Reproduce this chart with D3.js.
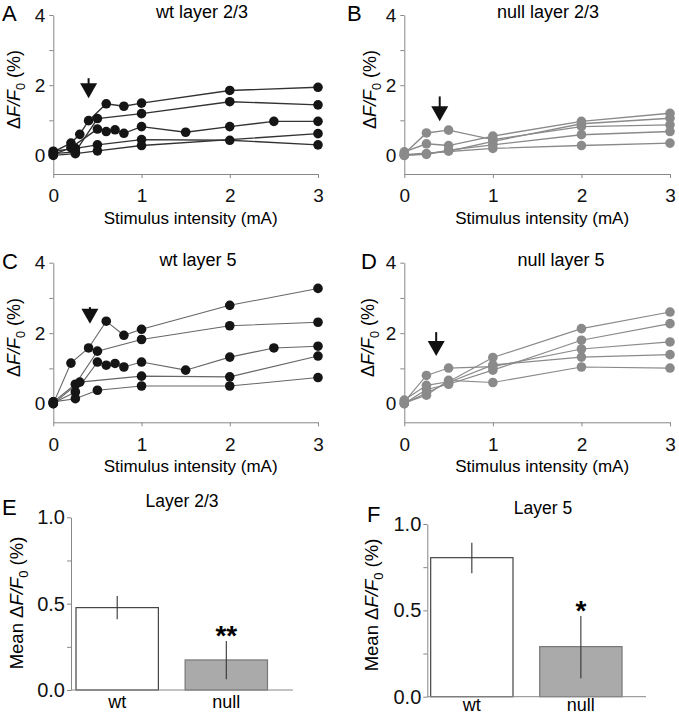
<!DOCTYPE html>
<html>
<head>
<meta charset="utf-8">
<script src="https://cdn.jsdelivr.net/npm/d3@7"></script>
<style>
  body { margin: 0; background: #fff; }
  svg { display: block; font-family: "Liberation Sans", Arial, sans-serif; }
  .axis path, .axis line { stroke: #888; }
  .axis text { fill: #111; }
</style>
</head>
<body>
<script>
// x ticks for the line panels, y ticks
var xTicks = [0, 1, 2, 3];
var yTicks = [0, 1, 2, 3, 4];
var barTicks = [0, 0.25, 0.5, 0.75, 1];

// traces: [stimulus mA, dF/F0 %]
var wt23 = [
  [[0,0.1],[0.2,0.35],[0.3,0.6],[0.4,0.99],[0.6,1.47],[0.8,1.4],[1,1.49],[2,1.85],[3,1.94]],
  [[0,0.05],[0.25,0.1],[0.5,1.05],[1,1.19],[2,1.53],[3,1.44]],
  [[0,0.02],[0.2,0.22],[0.5,0.75],[0.6,0.68],[0.7,0.73],[0.8,0.63],[1,0.82],[1.5,0.66],[2,0.82],[2.5,0.97],[3,0.97]],
  [[0,0.12],[0.25,0.2],[0.5,0.3],[1,0.45],[2,0.43],[3,0.3]],
  [[0,0.0],[0.25,0.05],[0.5,0.13],[1,0.28],[3,0.62]]
];
var null23 = [
  [[0,0.05],[0.25,0.64],[0.5,0.72],[1,0.45],[2,0.82],[3,0.87]],
  [[0,0.1],[0.25,0.33],[0.5,0.28],[1,0.55],[2,0.97],[3,1.2]],
  [[0,0.0],[0.25,0.05],[0.5,0.12],[1,0.4],[2,0.9],[3,1.06]],
  [[0,0.0],[0.25,0.03],[0.5,0.15],[1,0.3],[2,0.59],[3,0.68]],
  [[0,0.02],[1,0.2],[2,0.28],[3,0.35]]
];
var wt5 = [
  [[0,0.0],[0.2,1.15],[0.4,1.58],[0.6,2.34],[0.8,1.94],[1,2.11],[2,2.79],[3,3.27]],
  [[0,0.05],[0.25,0.55],[0.5,1.49],[1,1.82],[2,2.21],[3,2.31]],
  [[0,0.02],[0.25,0.33],[0.5,1.18],[0.6,1.09],[0.7,1.14],[0.8,1.04],[1,1.18],[1.5,0.95],[2,1.32],[2.5,1.58],[3,1.63]],
  [[0,0.0],[0.3,0.61],[1,0.78],[2,0.76],[3,1.35]],
  [[0,0.05],[0.25,0.14],[0.5,0.38],[1,0.5],[2,0.5],[3,0.74]]
];
var null5 = [
  [[0,0.05],[0.25,0.8],[0.5,1.01],[1,1.05],[2,1.55],[3,1.75]],
  [[0,0.1],[0.25,0.52],[0.5,0.62],[1,1.31],[2,2.13],[3,2.6]],
  [[0,0.0],[0.25,0.4],[0.5,0.55],[1,0.95],[2,1.8],[3,2.27]],
  [[0,0.0],[0.25,0.3],[0.5,0.6],[1,1.1],[2,1.32],[3,1.39]],
  [[0,0.02],[0.25,0.24],[0.5,0.66],[1,0.6],[2,1.04],[3,1.01]]
];

// arrows: x position, shaft top, tip (data units)
var arrowX = [0.4, 0.4, 0.415, 0.36];
var arrowTop = [2.2, 1.68, 2.74, 2.03];
var arrowTip = [1.63, 0.97, 2.27, 1.35];

// bar panels
var groups = ["wt", "null"];
var mean23 = [0.477, 0.174];
var errLo23 = [0.41, 0.062];
var errHi23 = [0.544, 0.284];
var stars23 = ["", "**"];
var mean5 = [0.805, 0.29];
var errLo5 = [0.715, 0.107];
var errHi5 = [0.892, 0.467];
var stars5 = ["", "*"];

var W = 679, H = 720;
var svg = d3.select("body").append("svg").attr("width", W).attr("height", H);

// y label with italic F and subscript 0
function yLabel(g, x, y, prefix, size) {
    var t = g.append("text")
        .attr("transform", "translate(" + x + "," + y + ") rotate(-90)")
        .attr("text-anchor", "middle")
        .style("font-size", size + "px");
    if (prefix) t.append("tspan").text(prefix);
    t.append("tspan").text("\u0394");
    t.append("tspan").style("font-style", "italic").text("F/F");
    t.append("tspan").attr("dy", 5).style("font-size", (size * 0.7) + "px").text("0");
    t.append("tspan").attr("dy", -5).text(" (%)");
}

function linePanel(opt) {
    var g = svg.append("g");
    var x = d3.scaleLinear().domain([0, 3]).range([opt.x0, opt.x1]);
    var y = d3.scaleLinear().domain([-0.53, 4]).range([opt.yb, opt.yt]);

    g.append("g").attr("class", "axis")
        .attr("transform", "translate(" + opt.x0 + ",0)")
        .call(d3.axisLeft(y).tickValues(yTicks).tickSize(4).tickSizeOuter(0)
            .tickFormat(function(d) { return d % 2 === 0 ? d : ""; }))
        .call(function(a) { a.selectAll("text").style("font-size", "19px").attr("x", -8); });

    g.append("g").attr("class", "axis")
        .attr("transform", "translate(0," + opt.yb + ")")
        .call(d3.axisBottom(x).tickValues(xTicks).tickSize(4).tickSizeOuter(0).tickFormat(d3.format("d")))
        .call(function(a) { a.selectAll("text").style("font-size", "19px").attr("y", 15); });

    var line = d3.line().x(function(d) { return x(d[0]); }).y(function(d) { return y(d[1]); });

    g.selectAll(".trace").data(opt.data).enter().append("path")
        .attr("class", "trace")
        .attr("fill", "none")
        .attr("stroke", opt.lineColor)
        .attr("stroke-width", opt.lineWidth)
        .attr("d", line);

    opt.data.forEach(function(tr) {
        g.selectAll(null).data(tr).enter().append("circle")
            .attr("cx", function(d) { return x(d[0]); })
            .attr("cy", function(d) { return y(d[1]); })
            .attr("r", 4.8)
            .attr("fill", opt.dotColor);
    });

    // arrow
    var ax = x(arrowX[opt.i]), aTop = y(arrowTop[opt.i]), aTip = y(arrowTip[opt.i]);
    g.append("line").attr("x1", ax).attr("x2", ax).attr("y1", aTop).attr("y2", aTip - 10)
        .attr("stroke", "#111").attr("stroke-width", 2);
    g.append("path")
        .attr("d", "M" + (ax - 8.5) + "," + (aTip - 15) + "L" + (ax + 8.5) + "," + (aTip - 15) + "L" + ax + "," + aTip + "Z")
        .attr("fill", "#111");

    g.append("text").attr("x", opt.titleX).attr("y", opt.yt + 3)
        .attr("text-anchor", "middle").style("font-size", "18px").text(opt.title);
    g.append("text").attr("x", opt.letterX).attr("y", opt.yt + 6)
        .style("font-size", "22px").text(opt.letter);
    g.append("text").attr("x", (opt.x0 + opt.x1) / 2 + 5).attr("y", opt.yb + 50)
        .attr("text-anchor", "middle").style("font-size", "17px").text("Stimulus intensity (mA)");
    yLabel(g, opt.labelX, (opt.yt + opt.yb) / 2 - 5, "", 18);
}

linePanel({i: 0, data: wt23, x0: 53.3, x1: 318, yt: 15, yb: 174, lineColor: "#333", lineWidth: 1.4,
    dotColor: "#151515", title: "wt layer 2/3", titleX: 202, letter: "A", letterX: 2, labelX: 20});
linePanel({i: 1, data: null23, x0: 404.3, x1: 670, yt: 15, yb: 174, lineColor: "#8a8a8a", lineWidth: 1.4,
    dotColor: "#8a8a8a", title: "null layer 2/3", titleX: 548, letter: "B", letterX: 347, labelX: 376});
linePanel({i: 2, data: wt5, x0: 53.3, x1: 318, yt: 262.7, yb: 422.3, lineColor: "#666", lineWidth: 1.1,
    dotColor: "#151515", title: "wt layer 5", titleX: 198, letter: "C", letterX: 2, labelX: 20});
linePanel({i: 3, data: null5, x0: 404.3, x1: 670, yt: 262.7, yb: 422.3, lineColor: "#8a8a8a", lineWidth: 1.2,
    dotColor: "#8a8a8a", title: "null layer 5", titleX: 561, letter: "D", letterX: 361, labelX: 374});

function barPanel(opt) {
    var g = svg.append("g");
    var y = d3.scaleLinear().domain([0, 1]).range([opt.yb, opt.yt]);
    var x = d3.scaleBand().domain(groups).range([opt.x0, opt.bandEnd])
        .paddingInner(0.245).paddingOuter(opt.po);

    g.selectAll("rect").data(groups).enter().append("rect")
        .attr("x", function(d) { return x(d); })
        .attr("width", x.bandwidth())
        .attr("y", function(d, i) { return y(opt.mean[i]); })
        .attr("height", function(d, i) { return opt.yb - y(opt.mean[i]); })
        .attr("fill", function(d, i) { return i === 0 ? "#fff" : "#aaa"; })
        .attr("stroke", function(d, i) { return i === 0 ? "#444" : "#777"; })
        .attr("stroke-width", 1.2);

    g.selectAll(".err").data(groups).enter().append("line")
        .attr("class", "err")
        .attr("x1", function(d) { return x(d) + x.bandwidth() / 2; })
        .attr("x2", function(d) { return x(d) + x.bandwidth() / 2; })
        .attr("y1", function(d, i) { return y(opt.lo[i]); })
        .attr("y2", function(d, i) { return y(opt.hi[i]); })
        .attr("stroke", "#333").attr("stroke-width", 1.1);

    g.selectAll(".star").data(groups).enter().append("text")
        .attr("class", "star")
        .attr("x", function(d) { return x(d) + x.bandwidth() / 2; })
        .attr("y", function(d, i) { return y(opt.hi[i]) + 4; })
        .attr("text-anchor", "middle")
        .style("font-size", "28px").style("font-weight", "bold")
        .text(function(d, i) { return opt.stars[i]; });

    g.append("g").attr("class", "axis")
        .attr("transform", "translate(" + opt.x0 + ",0)")
        .call(d3.axisLeft(y).tickValues(barTicks).tickSize(4).tickSizeOuter(0)
            .tickFormat(function(d) { return d === 0.25 || d === 0.75 ? "" : d3.format(".1f")(d); }))
        .call(function(a) { a.selectAll("text").style("font-size", "20px").attr("x", -6); });

    g.append("line").attr("x1", opt.x0).attr("x2", opt.xEnd)
        .attr("y1", opt.yb).attr("y2", opt.yb).attr("stroke", "#888");

    g.selectAll(".grp").data(groups).enter().append("text")
        .attr("class", "grp")
        .attr("x", function(d) { return x(d) + x.bandwidth() / 2; })
        .attr("y", opt.yb + opt.grpDy)
        .attr("text-anchor", "middle").style("font-size", "18px")
        .text(function(d) { return d; });

    g.append("text").attr("x", opt.titleX).attr("y", opt.yt - 10)
        .attr("text-anchor", "middle").style("font-size", "17.5px").text(opt.title);
    g.append("text").attr("x", opt.letterX).attr("y", opt.yt - 2)
        .style("font-size", "22px").text(opt.letter);
    yLabel(g, opt.labelX, opt.labelY, "Mean ", 18.5);
}

barPanel({mean: mean23, lo: errLo23, hi: errHi23, stars: stars23, x0: 71, bandEnd: 272.5, po: 0.046,
    xEnd: 293, yt: 517.3, yb: 690, title: "Layer 2/3", titleX: 182, letter: "E", letterX: 2,
    labelX: 23, labelY: 603, grpDy: 18});
barPanel({mean: mean5, lo: errLo5, hi: errHi5, stars: stars5, x0: 427.3, bandEnd: 625.4, po: 0.031,
    xEnd: 646, yt: 524, yb: 696.7, title: "Layer 5", titleX: 543, letter: "F", letterX: 367,
    labelX: 378, labelY: 605, grpDy: 14});
</script>
</body>
</html>
